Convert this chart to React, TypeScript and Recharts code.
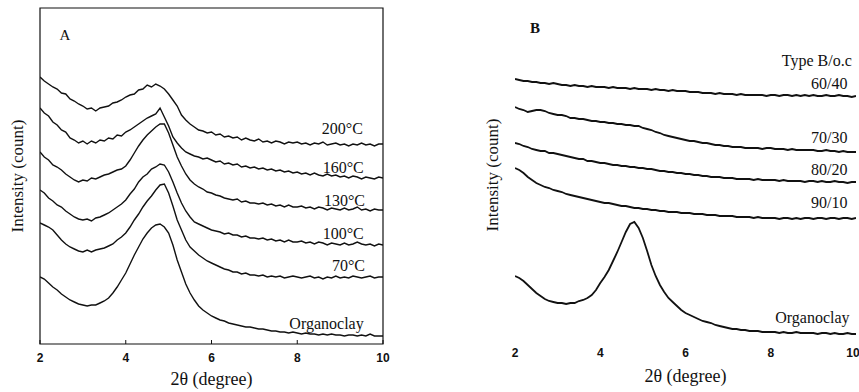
import React from 'react';
import { LineChart, Line, XAxis, YAxis, ReferenceArea, ReferenceDot } from 'recharts';

// 2θ (degree)
const twoTheta = [
  2.0, 2.1, 2.2, 2.3, 2.4, 2.5, 2.6, 2.7, 2.8, 2.9, 3.0, 3.1, 3.2, 3.3, 3.4, 3.5, 3.6, 3.7, 3.8, 3.9,
  4.0, 4.1, 4.2, 4.3, 4.4, 4.5, 4.6, 4.7, 4.8, 4.9, 5.0, 5.1, 5.2, 5.3, 5.4, 5.5, 5.6, 5.7, 5.8, 5.9,
  6.0, 6.1, 6.2, 6.3, 6.4, 6.5, 6.6, 6.7, 6.8, 6.9, 7.0, 7.1, 7.2, 7.3, 7.4, 7.5, 7.6, 7.7, 7.8, 7.9,
  8.0, 8.1, 8.2, 8.3, 8.4, 8.5, 8.6, 8.7, 8.8, 8.9, 9.0, 9.1, 9.2, 9.3, 9.4, 9.5, 9.6, 9.7, 9.8, 9.9, 10.0,
];
const xTicks = [2, 4, 6, 8, 10];

// Panel A: intensity (offset, arbitrary counts)
const a200 = [
  267, 263, 260, 257, 255, 251, 250, 245, 243, 240, 238, 235, 236, 233, 236, 237, 238, 241, 242, 244,
  247, 249, 250, 254, 255, 259, 257, 260, 258, 255, 250, 244, 238, 229, 224, 220, 217, 214, 213, 211,
  212, 209, 210, 207, 208, 206, 207, 204, 206, 204, 203, 205, 202, 203, 201, 203, 202, 200, 202, 201,
  202, 200, 201, 199, 201, 200, 202, 199, 200, 201, 199, 200, 198, 200, 199, 201, 199, 200, 198, 200, 200,
];
const a160 = [
  236, 231, 228, 222, 219, 214, 212, 206, 204, 201, 203, 200, 203, 201, 204, 203, 206, 205, 209, 208,
  212, 214, 217, 220, 223, 226, 228, 230, 236, 227, 218, 207, 201, 196, 192, 190, 188, 187, 185, 186,
  184, 182, 183, 180, 181, 179, 180, 177, 178, 176, 177, 175, 176, 174, 175, 173, 174, 172, 173, 171,
  172, 170, 171, 169, 171, 169, 168, 170, 168, 169, 167, 168, 166, 168, 167, 165, 167, 166, 165, 167, 166,
];
const a130 = [
  192, 187, 184, 179, 177, 174, 170, 167, 164, 162, 164, 163, 166, 165, 167, 169, 170, 172, 174, 175,
  178, 184, 191, 198, 204, 209, 213, 217, 220, 220, 211, 199, 187, 178, 170, 164, 160, 157, 155, 152,
  151, 149, 148, 146, 145, 144, 145, 142, 143, 141, 141, 140, 141, 139, 140, 138, 139, 137, 139, 137,
  137, 138, 136, 137, 135, 137, 136, 134, 136, 135, 134, 136, 134, 135, 137, 134, 135, 133, 135, 134, 134,
];
const a100 = [
  154, 151, 146, 143, 139, 137, 133, 130, 127, 125, 124, 125, 123, 126, 127, 129, 131, 134, 137, 140,
  144, 150, 155, 162, 167, 170, 175, 177, 180, 179, 172, 162, 151, 141, 133, 127, 122, 120, 118, 116,
  114, 113, 112, 110, 111, 109, 109, 107, 108, 106, 106, 105, 106, 104, 105, 103, 104, 102, 104, 102,
  102, 103, 101, 102, 100, 102, 101, 99, 101, 100, 99, 101, 99, 100, 102, 100, 99, 100, 98, 100, 99,
];
const a70 = [
  121, 119, 117, 114, 109, 104, 100, 97, 95, 93, 92, 94, 92, 94, 95, 96, 98, 100, 104, 107,
  111, 117, 124, 130, 137, 143, 148, 154, 159, 160, 151, 138, 124, 114, 104, 97, 93, 89, 86, 83,
  81, 79, 77, 75, 74, 72, 72, 70, 71, 69, 69, 68, 69, 67, 68, 67, 68, 66, 67, 68,
  67, 66, 67, 68, 66, 67, 65, 67, 66, 68, 66, 67, 66, 68, 67, 66, 67, 68, 66, 67, 67,
];
const aOrgano = [
  67, 65, 61, 57, 54, 50, 47, 44, 42, 40, 39, 38, 39, 39, 41, 43, 46, 51, 57, 64,
  71, 80, 89, 97, 105, 111, 116, 119, 120, 117, 111, 99, 84, 72, 60, 51, 44, 38, 34, 31,
  28, 26, 24, 23, 21, 20, 19, 18, 17, 17, 16, 15, 15, 14, 13, 13, 12, 12, 11, 12,
  11, 10, 11, 10, 10, 9, 10, 9, 10, 9, 9, 8, 9, 9, 8, 9, 8, 10, 8, 8, 8,
];

// Panel B: intensity (offset, arbitrary counts)
const b6040 = [
  263, 262, 261, 261, 260, 260, 259, 259, 258, 259, 258, 257, 257, 256, 257, 256, 256, 255, 256, 255,
  255, 255, 254, 255, 254, 254, 254, 253, 254, 253, 253, 253, 252, 253, 252, 252, 251, 252, 251, 251,
  251, 250, 250, 250, 249, 249, 249, 248, 249, 248, 248, 248, 247, 248, 247, 247, 247, 247, 247, 246,
  247, 247, 246, 247, 247, 246, 247, 246, 247, 246, 247, 246, 246, 247, 246, 246, 247, 246, 246, 245, 246,
];
const b7030 = [
  235, 233, 232, 230, 231, 232, 232, 231, 229, 228, 227, 227, 226, 224, 224, 223, 223, 222, 221, 221,
  220, 220, 219, 219, 218, 218, 217, 217, 216, 216, 214, 213, 212, 210, 209, 207, 206, 205, 204, 203,
  202, 201, 201, 200, 199, 199, 198, 197, 197, 196, 196, 195, 195, 195, 194, 194, 194, 194, 193, 194,
  194, 193, 193, 193, 192, 193, 192, 192, 192, 192, 192, 191, 191, 192, 191, 191, 190, 191, 190, 190, 190,
];
const b8020 = [
  199, 198, 196, 195, 193, 192, 191, 191, 189, 189, 188, 187, 186, 185, 184, 183, 183, 181, 181, 180,
  179, 179, 178, 177, 177, 176, 176, 175, 175, 174, 174, 173, 173, 172, 171, 171, 170, 170, 169, 169,
  168, 168, 167, 167, 166, 166, 165, 165, 165, 164, 164, 164, 163, 163, 163, 163, 162, 163, 162, 162,
  162, 162, 161, 162, 161, 161, 161, 161, 160, 161, 161, 160, 161, 160, 160, 161, 160, 160, 159, 160, 160,
];
const b9010 = [
  174, 172, 169, 165, 162, 159, 157, 155, 154, 152, 151, 150, 148, 147, 146, 145, 144, 143, 142, 141,
  140, 139, 139, 138, 137, 136, 136, 135, 134, 134, 133, 133, 132, 132, 131, 131, 130, 130, 130, 129,
  129, 129, 128, 128, 128, 127, 127, 127, 126, 126, 126, 126, 125, 125, 125, 125, 124, 125, 124, 124,
  124, 124, 123, 124, 124, 123, 124, 123, 124, 124, 123, 124, 124, 123, 124, 124, 123, 124, 124, 123, 124,
];
const bOrgano = [
  66, 64, 61, 57, 53, 49, 46, 43, 41, 40, 39, 39, 38, 39, 39, 41, 42, 44, 47, 52,
  59, 65, 72, 81, 90, 100, 110, 118, 120, 114, 104, 91, 77, 66, 57, 50, 44, 40, 36, 32,
  29, 27, 25, 23, 21, 20, 19, 17, 16, 15, 14, 13, 13, 12, 12, 11, 11, 11, 10, 10,
  10, 10, 9, 10, 9, 9, 10, 9, 9, 9, 9, 8, 9, 9, 8, 9, 8, 8, 9, 8, 8,
];

const seriesA = ['a200', 'a160', 'a130', 'a100', 'a70', 'aOrgano'];
const seriesB = ['b6040', 'b7030', 'b8020', 'b9010', 'bOrgano'];

const labelsA = ['200°C', '160°C', '130°C', '100°C', '70°C', 'Organoclay'];
const labelsB = ['Type B/o.c', '60/40', '70/30', '80/20', '90/10', 'Organoclay'];

// label anchors (right edge x in 2θ, y in intensity units)
const labelAnchorsA = [
  [9.53, 216], [9.55, 177], [9.58, 144], [9.55, 111], [9.58, 79], [9.55, 21],
];
const labelAnchorsB = [
  [9.9, 282], [9.8, 259], [9.8, 205], [9.8, 173], [9.8, 140], [9.85, 25],
];

const tableA = twoTheta.map((x, i) => ({
  x, a200: a200[i], a160: a160[i], a130: a130[i], a100: a100[i], a70: a70[i], aOrgano: aOrgano[i],
}));
const tableB = twoTheta.map((x, i) => ({
  x, b6040: b6040[i], b7030: b7030[i], b8020: b8020[i], b9010: b9010[i], bOrgano: bOrgano[i],
}));

const SERIF = '"Liberation Serif", "DejaVu Serif", serif';
const SANS = '"Liberation Sans", Arial, sans-serif';
const INK = '#111';

const rightLabel = (text: string, size = 16, weight: any = 'normal') => (props: any) => {
  const vb = props.viewBox || {};
  const x = (vb.x ?? 0) + (vb.width ?? 0) / 2;
  const y = (vb.y ?? 0) + (vb.height ?? 0) / 2;
  return (
    <text x={x} y={y} textAnchor="end" dominantBaseline="central" fontFamily={SERIF}
      fontSize={size} fontWeight={weight} fill={INK}>{text}</text>
  );
};

const leftLabel = (text: string, size = 15, weight: any = 'normal') => (props: any) => {
  const vb = props.viewBox || {};
  const x = (vb.x ?? 0) + (vb.width ?? 0) / 2;
  const y = (vb.y ?? 0) + (vb.height ?? 0) / 2;
  return (
    <text x={x} y={y} textAnchor="middle" dominantBaseline="central" fontFamily={SERIF}
      fontSize={size} fontWeight={weight} fill={INK}>{text}</text>
  );
};

const yTitle = (cxOffset: number) => (props: any) => {
  const vb = props.viewBox || {};
  const cx = (vb.x ?? 0) + cxOffset;
  const cy = (vb.y ?? 0) + (vb.height ?? 0) / 2;
  return (
    <text x={cx} y={cy} transform={`rotate(-90 ${cx} ${cy})`} textAnchor="middle"
      dominantBaseline="central" fontFamily={SERIF} fontSize={17} fill={INK}>Intensity (count)</text>
  );
};

const xTitle = (baseline: number) => (props: any) => {
  const vb = props.viewBox || {};
  const cx = (vb.x ?? 0) + (vb.width ?? 0) / 2;
  return (
    <text x={cx} y={baseline} textAnchor="middle" fontFamily={SERIF} fontSize={18} fill={INK}>2θ (degree)</text>
  );
};

const tickStyle = { fontFamily: SANS, fontSize: 12, fontWeight: 'bold', fill: INK };

export default function App() {
  return (
    <div style={{ position: 'absolute', left: 0, top: 0, width: 859, height: 392, background: '#fff', overflow: 'hidden' }}>
      <div style={{ position: 'absolute', left: 0, top: 0 }}>
        <LineChart width={430} height={392} data={tableA} margin={{ top: 8, right: 47, bottom: 0, left: 0 }}>
          <XAxis dataKey="x" type="number" domain={[2, 10]} ticks={xTicks} allowDataOverflow
            height={48} axisLine={false} tickSize={-4} tickMargin={13}
            tickLine={{ stroke: INK }} tick={tickStyle}
            label={{ content: xTitle(385) }} />
          <YAxis type="number" domain={[0, 336]} width={40} tick={false} axisLine={false} tickLine={false}
            label={{ content: yTitle(17) }} />
          <ReferenceArea x1={2} x2={10} y1={0} y2={336} fill="none" stroke={INK} strokeWidth={1.2} ifOverflow="visible" />
          {seriesA.map((k) => (
            <Line key={k} dataKey={k} type="linear" dot={false} stroke={INK} strokeWidth={1.4}
              isAnimationActive={false} />
          ))}
          <ReferenceDot x={2.58} y={309} r={1} fill="none" stroke="none" label={{ content: leftLabel('A', 15) }} />
          {labelsA.map((t, i) => (
            <ReferenceDot key={t} x={labelAnchorsA[i][0]} y={labelAnchorsA[i][1]} r={1} fill="none" stroke="none"
              label={{ content: rightLabel(t, 16) }} />
          ))}
        </LineChart>
      </div>
      <div style={{ position: 'absolute', left: 430, top: 0 }}>
        <LineChart width={429} height={392} data={tableB} margin={{ top: 8, right: 3, bottom: 0, left: 0 }}>
          <XAxis dataKey="x" type="number" domain={[2, 10]} ticks={xTicks} allowDataOverflow
            height={50} axisLine={false} tickLine={false} tickSize={0} tickMargin={6} tick={tickStyle}
            label={{ content: xTitle(382) }} />
          <YAxis type="number" domain={[0, 334]} width={85} tick={false} axisLine={false} tickLine={false}
            label={{ content: yTitle(62) }} />
          {seriesB.map((k) => (
            <Line key={k} dataKey={k} type="linear" dot={false} stroke={INK} strokeWidth={1.8}
              isAnimationActive={false} />
          ))}
          <ReferenceDot x={2.47} y={314} r={1} fill="none" stroke="none" label={{ content: leftLabel('B', 15, 'bold') }} />
          {labelsB.map((t, i) => (
            <ReferenceDot key={t + i} x={labelAnchorsB[i][0]} y={labelAnchorsB[i][1]} r={1} fill="none" stroke="none"
              ifOverflow="visible" label={{ content: rightLabel(t, 16) }} />
          ))}
        </LineChart>
      </div>
    </div>
  );
}
